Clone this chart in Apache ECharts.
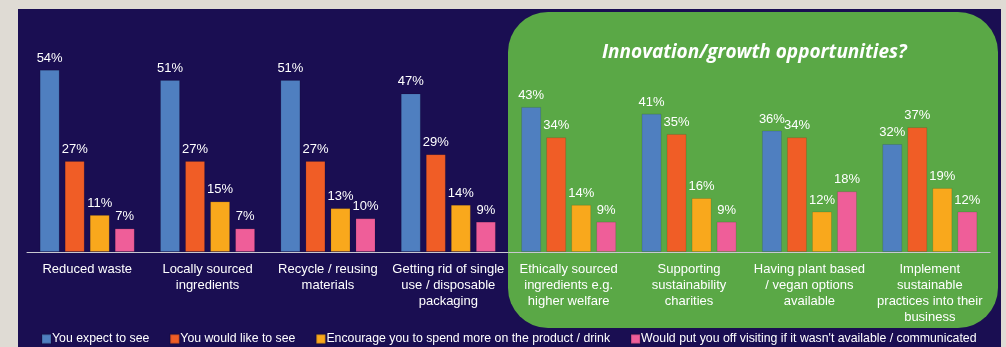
<!DOCTYPE html>
<html>
<head>
<meta charset="utf-8">
<script src="https://cdn.jsdelivr.net/npm/echarts@6/dist/echarts.min.js"></script>
<style>
  html, body { margin: 0; padding: 0; background: #dfdbd4; }
  #chart { width: 1006px; height: 347px; }
</style>
</head>
<body>
<div id="chart"></div>
<script>
// Sustainability attributes
const categories = [
  'Reduced waste',
  'Locally sourced\ningredients',
  'Recycle / reusing\nmaterials',
  'Getting rid of single\nuse / disposable\npackaging',
  'Ethically sourced\ningredients e.g.\nhigher welfare',
  'Supporting\nsustainability\ncharities',
  'Having plant based\n/ vegan options\navailable',
  'Implement\nsustainable\npractices into their\nbusiness'
];

const seriesNames = [
  'You expect to see',
  'You would like to see',
  'Encourage you to spend more on the product / drink',
  "Would put you off visiting if it wasn't available / communicated"
];

// Percent of respondents
const expectToSee  = [54, 51, 51, 47, 43, 41, 36, 32];
const likeToSee    = [27, 27, 27, 29, 34, 35, 34, 37];
const spendMore    = [11, 15, 13, 14, 14, 16, 12, 19];
const putOff       = [7, 7, 10, 9, 9, 9, 18, 12];

const seriesColors = ['#4f7fc0', '#f05d26', '#f9a81c', '#ef5e99'];
const seriesData = [expectToSee, likeToSee, spendMore, putOff];

const FONT = '"Liberation Sans", Arial, sans-serif';

const chart = echarts.init(document.getElementById('chart'), null, { renderer: 'canvas' });

const option = {
  backgroundColor: '#dfdbd4',
  animation: false,
  textStyle: { fontFamily: FONT },
  graphic: {
    elements: [
      { type: 'rect', z: 0, silent: true,
        shape: { x: 18, y: 9, width: 983, height: 340 },
        style: { fill: '#1a0e52' } },
      { type: 'rect', z: 0, silent: true,
        shape: { x: 508, y: 12, width: 490, height: 316, r: 40 },
        style: { fill: '#5aa846' } },
      { type: 'text', z: 1, silent: true,
        left: 602, top: 43,
        style: {
          text: 'Innovation/growth opportunities?',
          fill: '#ffffff',
          font: 'italic bold 19px "Open Sans", sans-serif'
        } }
    ]
  },
  legend: {
    top: 333,
    left: 41,
    width: 960,
    padding: 0,
    itemWidth: 9,
    itemHeight: 9,
    itemGap: 20,
    icon: 'rect',
    textStyle: { color: '#ffffff', fontSize: 12.3, fontFamily: FONT, padding: [0, 0, 0, -4] },
    data: seriesNames
  },
  grid: { left: 27, right: 16, top: 49.5, bottom: 95 },
  xAxis: {
    type: 'category',
    data: categories,
    axisTick: { show: false },
    axisLine: { lineStyle: { color: '#c8c8d0', width: 1 } },
    axisLabel: {
      interval: 0,
      color: '#ffffff',
      fontSize: 13,
      fontFamily: FONT,
      lineHeight: 16,
      margin: 9
    }
  },
  yAxis: {
    type: 'value',
    min: 0,
    max: 60,
    show: false,
    splitLine: { show: false }
  },
  series: seriesNames.map((name, i) => ({
    name: name,
    type: 'bar',
    data: seriesData[i],
    barGap: '25%',
    barCategoryGap: '21%',
    itemStyle: { color: seriesColors[i], borderColor: 'rgba(0,0,0,0.12)', borderWidth: 1 },
    label: {
      show: true,
      position: 'top',
      distance: 5,
      color: '#ffffff',
      fontSize: 13,
      fontFamily: FONT,
      formatter: '{c}%'
    }
  }))
};

chart.setOption(option);
</script>
</body>
</html>
